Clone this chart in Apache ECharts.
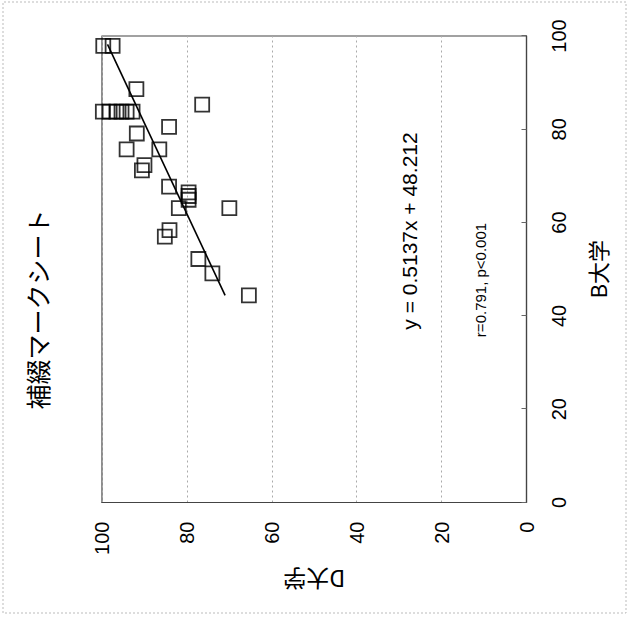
<!DOCTYPE html>
<html><head><meta charset="utf-8">
<script src="https://cdn.jsdelivr.net/npm/echarts@6/dist/echarts.min.js"></script>
<style>
html,body{margin:0;padding:0;background:#fff;overflow:hidden;width:629px;height:619px;}
#chart{position:absolute;left:5px;top:-5px;width:619px;height:629px;transform:rotate(-90deg);transform-origin:50% 50%;}
</style></head><body><div id="chart"></div>
<script>
// chart content (drawn in an unrotated frame, then the page rotates it -90deg like the scanned original)
const titleText = '補綴マークシート';
const xAxisName = 'B大学';
const yAxisName = 'D大学';
const xTicks = [0, 20, 40, 60, 80, 100];
const yTicks = [0, 20, 40, 60, 80, 100];
// B大学 score (x) and D大学 score (y) of each student
const bScores = [97.9, 97.9, 88.6, 85.3, 83.8, 83.8, 83.8, 83.8, 83.8, 83.8, 80.5, 79.1, 75.7, 75.7, 72.3, 71.2, 67.7, 66.5, 65.7, 64.9, 63.1, 63.1, 58.4, 57.0, 52.2, 49.1, 44.4];
const dScores = [99.7, 97.5, 91.9, 76.4, 99.8, 98.2, 96.6, 95.4, 94.2, 92.8, 84.2, 91.8, 94.2, 86.5, 90.0, 90.6, 84.2, 79.6, 79.6, 79.6, 70.0, 81.9, 84.1, 85.2, 77.3, 74.0, 65.4];
// linear trendline end points
const trendB = [44.4, 98.2];
const trendD = [71.0, 98.7];
const equationText = 'y = 0.5137x + 48.212';
const statsText = 'r=0.791, p<0.001';

const scatterData = bScores.map((b, i) => [b, dScores[i]]);
const trendData = trendB.map((b, i) => [b, trendD[i]]);

const numFont = '"Liberation Sans", Arial, sans-serif';
const cjkFont = '"Noto Sans CJK JP", "Liberation Sans", sans-serif';

const chart = echarts.init(document.getElementById('chart'), null, {renderer: 'svg'});
chart.setOption({
  backgroundColor: '#fff',
  animation: false,
  title: {
    text: titleText, left: 'center', top: 19,
    textStyle: {fontFamily: cjkFont, fontSize: 25, fontWeight: 'normal', color: '#000'}
  },
  grid: {left: 116.5, right: 36, top: 102, bottom: 102.5, show: true, borderColor: '#444', borderWidth: 1.2, containLabel: false},
  xAxis: {
    type: 'value', min: xTicks[0], max: xTicks[xTicks.length - 1], interval: 20,
    name: xAxisName, nameLocation: 'middle', nameGap: 59,
    nameTextStyle: {fontFamily: cjkFont, fontSize: 22, color: '#000'},
    axisLine: {show: true, lineStyle: {color: '#444', width: 1.2}},
    axisTick: {show: true, inside: true, length: 5, lineStyle: {color: '#666'}},
    axisLabel: {fontFamily: numFont, fontSize: 20, color: '#000', margin: 22},
    splitLine: {show: false}
  },
  yAxis: {
    type: 'value', min: yTicks[0], max: yTicks[yTicks.length - 1], interval: 20,
    name: yAxisName, nameLocation: 'middle', nameGap: 66, nameRotate: 90,
    nameTextStyle: {fontFamily: cjkFont, fontSize: 23, color: '#000'},
    axisLine: {show: true, lineStyle: {color: '#444', width: 1.2}},
    axisTick: {show: false},
    axisLabel: {fontFamily: numFont, fontSize: 20, color: '#000', margin: 19},
    splitLine: {show: true, lineStyle: {color: '#aaa', type: [2, 3], width: 1}}
  },
  series: [
    {
      type: 'scatter', data: scatterData, symbol: 'rect', symbolSize: 14,
      itemStyle: {color: 'rgba(0,0,0,0)', borderColor: '#000', borderWidth: 1.8},
      z: 3
    },
    {
      type: 'line', data: trendData, symbol: 'none', silent: true,
      lineStyle: {color: '#000', width: 1.6}, z: 4
    }
  ],
  graphic: [
    {type: 'rect', shape: {x: 6, y: 3, width: 611, height: 623}, silent: true,
     style: {fill: 'none', stroke: '#bbb', lineWidth: 1, lineDash: [2, 2]}},
    {type: 'text', x: 388, y: 409.5, silent: true,
     style: {text: equationText, font: '21px ' + numFont, fill: '#000', align: 'center', verticalAlign: 'middle'}},
    {type: 'text', x: 339, y: 480, silent: true,
     style: {text: statsText, font: '15px ' + numFont, fill: '#000', align: 'center', verticalAlign: 'middle'}}
  ]
});
</script></body></html>
